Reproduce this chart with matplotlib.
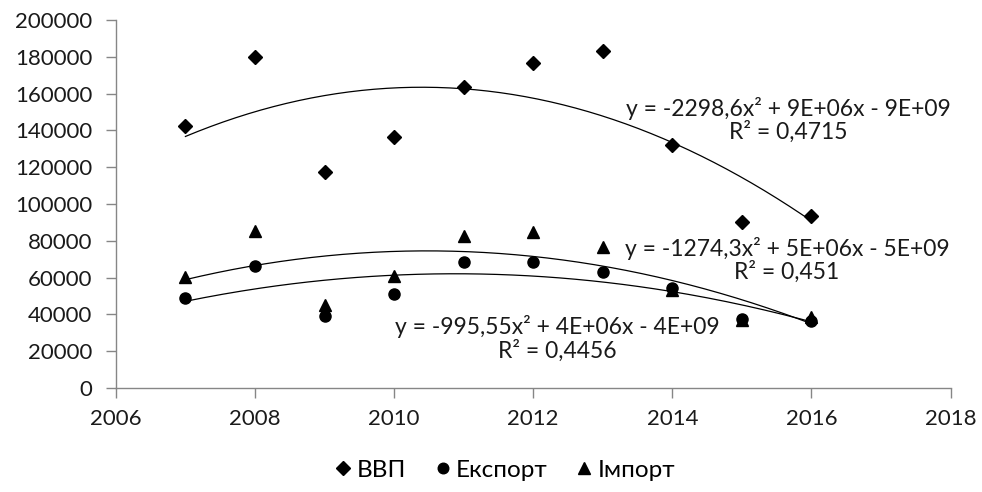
import numpy as np
import matplotlib
matplotlib.use("Agg")
import matplotlib.pyplot as plt

plt.rcParams['font.family'] = ['Lato', 'Open Sans', 'DejaVu Sans']

years = [2007, 2008, 2009, 2010, 2011, 2012, 2013, 2014, 2015, 2016]
vvp = [142500, 180000, 117400, 136400, 163400, 176400, 183300, 132000, 90400, 93400]
eksport = [49100, 66500, 39300, 51100, 68600, 68600, 63200, 54200, 37500, 36600]
import_ = [60100, 85300, 45100, 60900, 82600, 84600, 76800, 53300, 37000, 38800]

series_names = ['ВВП', 'Експорт', 'Імпорт']
markers = ['D', 'o', '^']
sizes = [7, 8, 8.5]
eq_texts = ['y = -2298,6x² + 9E+06x - 9E+09\nR² = 0,4715',
            'y = -995,55x² + 4E+06x - 4E+09\nR² = 0,4456',
            'y = -1274,3x² + 5E+06x - 5E+09\nR² = 0,451']
eq_pos = [(2015.67, 145700), (2012.35, 26900), (2015.65, 69600)]

xticks = [2006, 2008, 2010, 2012, 2014, 2016, 2018]
yticks = list(range(0, 200001, 20000))

fig = plt.figure(figsize=(9.82, 4.92), dpi=100)
ax = fig.add_axes([0.118, 0.2114, 0.850, 0.748])

x = np.array(years, dtype=float)
handles = []
for vals, name, m, s in zip([vvp, eksport, import_], series_names, markers, sizes):
    h, = ax.plot(years, vals, linestyle='none', marker=m, markersize=s,
                 color='black', label=name, clip_on=False)
    handles.append(h)
    xc = x - x.mean()
    coef = np.polyfit(xc, vals, 2)
    xs = np.linspace(x.min(), x.max(), 200)
    ax.plot(xs, np.polyval(coef, xs - x.mean()), color='black', linewidth=0.9)

for txt, (px, py) in zip(eq_texts, eq_pos):
    ax.text(px, py, txt, ha='center', va='center', fontsize=16.5,
            linespacing=1.05, color='#1a1a1a', clip_on=False)

ax.set_xlim(2006, 2018)
ax.set_ylim(0, 200000)
ax.set_xticks(xticks)
ax.set_yticks(yticks)
ax.set_xticklabels([str(v) for v in xticks])
ax.set_yticklabels([str(v) for v in yticks])
for sp in ['top', 'right']:
    ax.spines[sp].set_visible(False)
for sp in ['left', 'bottom']:
    ax.spines[sp].set_color('#868686')
    ax.spines[sp].set_linewidth(1.0)
ax.tick_params(axis='both', direction='out', length=7, width=1.0,
               color='#868686', labelsize=16, labelcolor='#1a1a1a')
ax.tick_params(axis='x', pad=8)
ax.tick_params(axis='y', pad=10)

leg = fig.legend(handles=handles, labels=series_names, loc='center',
                 bbox_to_anchor=(0.515, 1 - 470 / 492), ncol=3, frameon=False,
                 fontsize=17.5, handlelength=0.6, handletextpad=0.25,
                 columnspacing=1.2, markerscale=0.95)

fig.savefig('out.png', dpi=100)
